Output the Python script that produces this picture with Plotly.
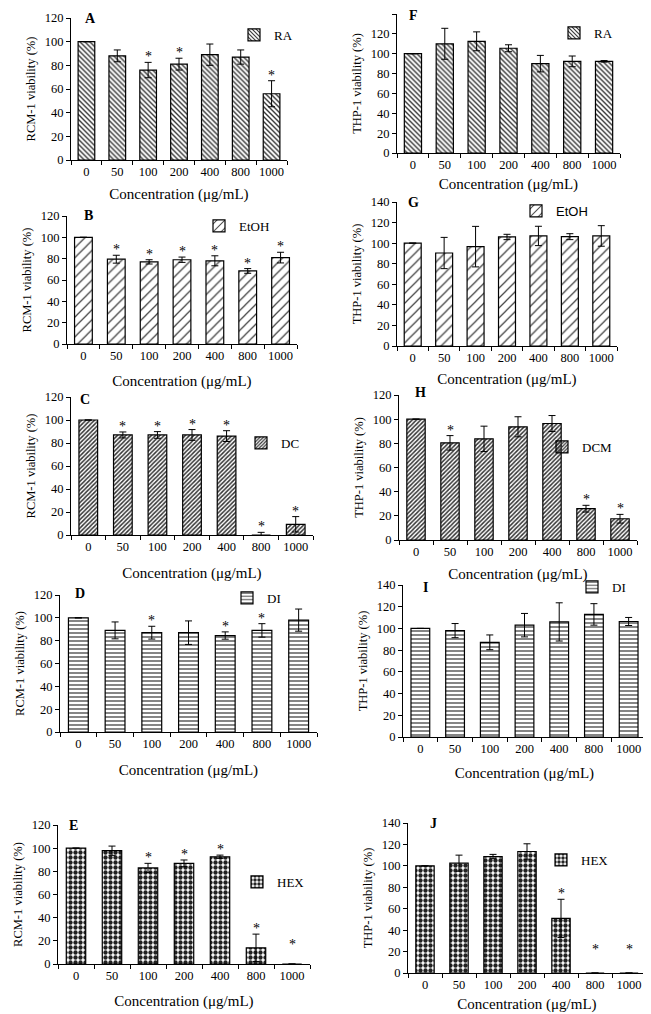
import plotly.graph_objects as go

conc = ["0", "50", "100", "200", "400", "800", "1000"]

# RCM-1 panels (left column)
A_val = [100, 88, 76, 81, 89, 87, 56]
A_err = [None, 5, 6.5, 5, 9, 6, 11]
A_sig = [0, 0, 1, 1, 0, 0, 1]

B_val = [100, 79.5, 77, 79, 78, 68.5, 81]
B_err = [None, 3.7, 2, 2.5, 4.7, 2.2, 5]
B_sig = [0, 1, 1, 1, 1, 1, 1]

C_val = [100, 87, 87, 87, 86, 0, 9.3]
C_err = [None, 2.6, 2.9, 4.7, 4.7, 2.3, 6.7]
C_sig = [0, 1, 1, 1, 1, 1, 1]

D_val = [100, 89, 87, 87, 84.5, 89, 98]
D_err = [None, 7.4, 5.6, 10.3, 3.2, 5.9, 9.7]
D_sig = [0, 0, 1, 0, 1, 1, 0]

E_val = [100, 97.8, 82.9, 86.9, 92.6, 14, 0]
E_err = [None, 4, 4, 2.9, 1.4, 11.8, None]
E_sig = [0, 0, 1, 1, 1, 1, 1]

# THP-1 panels (right column)
F_val = [100, 110, 112.5, 105.5, 90, 92.3, 92.3]
F_err = [None, 15.6, 9.5, 3.5, 8.3, 5.4, 0.8]
F_sig = [0, 0, 0, 0, 0, 0, 0]

G_val = [100, 90.4, 96.6, 106, 107, 106.3, 107]
G_err = [None, 15.2, 19.7, 2.6, 9.4, 2.9, 10]
G_sig = [0, 0, 0, 0, 0, 0, 0]

H_val = [100, 80.4, 83.7, 93.7, 96.4, 25.9, 17.6]
H_err = [None, 6, 10.5, 8.3, 6.6, 2.8, 3.6]
H_sig = [0, 1, 0, 0, 0, 1, 1]

I_val = [100, 98, 87.2, 103, 106, 112.9, 106.4]
I_err = [None, 6.5, 6.8, 10.8, 17.6, 9.9, 3.7]
I_sig = [0, 0, 0, 0, 0, 0, 0]

J_val = [100, 102.5, 108.7, 113.4, 51, 0, 0]
J_err = [None, 7.5, 2, 7.2, 17.8, None, None]
J_sig = [0, 0, 0, 0, 1, 1, 1]

# star heights for bars with no visible bar/error (data units)
star_override = {"E": {6: 12}, "J": {5: 17, 6: 17}}

# the page body has an 8px margin, so the figure is shrunk and shifted by it
OFF = 8
W, H = 651 - OFF, 1014 - OFF


def fx(px):
    return min(max((px - OFF) / W, 0.0), 1.0)


def fy(py):
    return min(max(1 - (py - OFF) / H, 0.0), 1.0)


# geometry in page pixels: plot box (x0, x1, ytop, ybot), letter pos, legend text start,
# x-title standoff
panels = [
    dict(key="A", val=A_val, err=A_err, sig=A_sig, name="RA", ytitle="RCM-1 viability (%)",
         box=(71, 287, 18, 160), ymax=120, letter=(90, 18), leg=(275, 35), xso=10,
         pat=dict(shape="\\", size=3.5, solidity=0.4, fgcolor="#333333")),
    dict(key="F", val=F_val, err=F_err, sig=F_sig, name="RA", ytitle="THP-1 viability (%)",
         box=(397, 620, 14, 153), ymax=140, letter=(413, 16), leg=(595, 33), xso=7,
         pat=dict(shape="\\", size=3.5, solidity=0.4, fgcolor="#333333")),
    dict(key="B", val=B_val, err=B_err, sig=B_sig, name="EtOH", ytitle="RCM-1 viability (%)",
         box=(67, 297, 216, 344), ymax=120, letter=(88, 216), leg=(240, 226), xso=13,
         pat=dict(shape="/", size=7, solidity=0.18, fgcolor="#444444")),
    dict(key="G", val=G_val, err=G_err, sig=G_sig, name="EtOH", ytitle="THP-1 viability (%)",
         box=(397, 617, 202, 346), ymax=140, letter=(413, 202), leg=(557, 211), xso=9, sans=True,
         pat=dict(shape="/", size=7, solidity=0.18, fgcolor="#444444")),
    dict(key="C", val=C_val, err=C_err, sig=C_sig, name="DC", ytitle="RCM-1 viability (%)",
         box=(71, 313, 397, 535), ymax=120, letter=(85, 399), leg=(282, 443), xso=14,
         pat=dict(shape="/", size=3, solidity=0.5, fgcolor="#333333")),
    dict(key="H", val=H_val, err=H_err, sig=H_sig, name="DCM", ytitle="THP-1 viability (%)",
         box=(399, 637, 395, 540), ymax=120, letter=(420, 393), leg=(583, 447), xso=10,
         pat=dict(shape="/", size=3, solidity=0.5, fgcolor="#333333")),
    dict(key="D", val=D_val, err=D_err, sig=D_sig, name="DI", ytitle="RCM-1 viability (%)",
         box=(60, 317, 595, 732), ymax=120, letter=(80, 593), leg=(268, 598), xso=14,
         pat=dict(shape="-", size=4, solidity=0.3, fgcolor="#333333")),
    dict(key="I", val=I_val, err=I_err, sig=I_sig, name="DI", ytitle="THP-1 viability (%)",
         box=(403, 646, 585, 737), ymax=140, letter=(425, 587), leg=(613, 587), xso=12,
         pat=dict(shape="-", size=4, solidity=0.3, fgcolor="#333333")),
    dict(key="E", val=E_val, err=E_err, sig=E_sig, name="HEX", ytitle="RCM-1 viability (%)",
         box=(58, 310, 825, 964), ymax=120, letter=(73, 825), leg=(278, 882), xso=13,
         pat=dict(shape=".", size=5, solidity=0.6, fgcolor="#222222")),
    dict(key="J", val=J_val, err=J_err, sig=J_sig, name="HEX", ytitle="THP-1 viability (%)",
         box=(408, 646, 823, 973), ymax=140, letter=(433, 823), leg=(582, 860), xso=7,
         pat=dict(shape=".", size=5, solidity=0.6, fgcolor="#222222")),
]

SERIF = "Liberation Serif"
SANS = "Liberation Sans"
LEG_TEXT_OFFSET = 41  # px between legend box left edge and its text

fig = go.Figure()
annotations = []
layout = dict(
    template="none",
    width=W, height=H, margin=dict(l=0, r=0, t=0, b=0, autoexpand=False),
    paper_bgcolor="white", plot_bgcolor="white",
    font=dict(family=SERIF, size=12, color="black"),
    bargap=0.46,
)

for i, p in enumerate(panels):
    n = i + 1
    xa = "xaxis" if n == 1 else f"xaxis{n}"
    ya = "yaxis" if n == 1 else f"yaxis{n}"
    xr = "x" if n == 1 else f"x{n}"
    yr = "y" if n == 1 else f"y{n}"
    lg = "legend" if n == 1 else f"legend{n}"
    x0, x1, yt, yb = p["box"]

    fig.add_trace(go.Bar(
        x=conc, y=p["val"], name=p["name"], xaxis=xr, yaxis=yr, legend=lg,
        marker=dict(color="white", line=dict(color="black", width=1.2), pattern=p["pat"]),
        error_y=dict(type="data", array=p["err"], color="black", thickness=1, width=3.5),
        showlegend=True,
    ))

    layout[xa] = dict(
        domain=[fx(x0), fx(x1)], anchor=yr, type="category", range=[-0.5, 6.5],
        automargin=False,
        showline=True, linecolor="black", linewidth=1, ticks="outside", ticklen=4,
        tickson="boundaries", tickcolor="black", showgrid=False, zeroline=False, tickangle=0,
        tickfont=dict(family=SERIF, size=12.5, color="black"),
        title=dict(text="Concentration (μg/mL)", font=dict(family=SERIF, size=15, color="black"),
                   standoff=p["xso"]),
    )
    layout[ya] = dict(
        domain=[fy(yb), fy(yt)], anchor=xr, range=[0, p["ymax"]], dtick=20,
        automargin=False,
        showline=True, linecolor="black", linewidth=1, ticks="outside", ticklen=4,
        tickcolor="black", showgrid=False, zeroline=False,
        tickfont=dict(family=SERIF, size=12.5, color="black"),
        title=dict(text=p["ytitle"], font=dict(family=SERIF, size=12.5, color="black"), standoff=6),
    )
    layout[lg] = dict(
        x=fx(p["leg"][0] - LEG_TEXT_OFFSET), y=fy(p["leg"][1]),
        xanchor="left", yanchor="middle",
        bgcolor="rgba(0,0,0,0)", borderwidth=0,
        font=dict(family=SANS if p.get("sans") else SERIF, size=13, color="black"),
        itemwidth=30, tracegroupgap=0,
    )

    # panel letter
    annotations.append(dict(
        x=fx(p["letter"][0]), y=fy(p["letter"][1]), xref="paper", yref="paper",
        text=f"<b>{p['key']}</b>", showarrow=False, xanchor="center", yanchor="middle",
        font=dict(family=SERIF, size=14, color="black"),
    ))
    # significance stars (x given as category index)
    ov = star_override.get(p["key"], {})
    for j, s in enumerate(p["sig"]):
        if not s:
            continue
        ys = ov[j] if j in ov else p["val"][j] + (p["err"][j] or 0)
        annotations.append(dict(
            x=j, y=ys, xref=xr, yref=yr, text="*", showarrow=False,
            xanchor="center", yanchor="bottom", yshift=-4,
            font=dict(family=SERIF, size=14, color="black"),
        ))

layout["annotations"] = annotations
fig.update_layout(**layout)
fig.write_html("out.html")
